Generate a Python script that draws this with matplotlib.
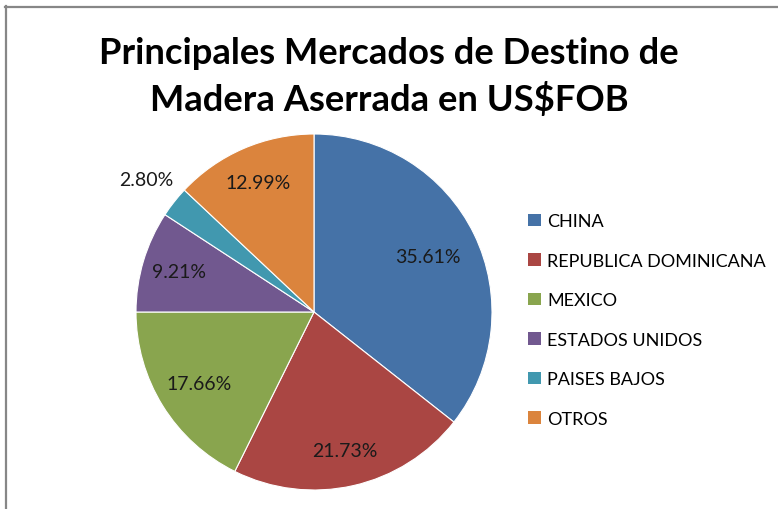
import matplotlib.pyplot as plt
from matplotlib.patches import Patch
from matplotlib.lines import Line2D
import numpy as np

# datos del gráfico
mercados = ['CHINA', 'REPUBLICA DOMINICANA', 'MEXICO', 'ESTADOS UNIDOS',
            'PAISES BAJOS', 'OTROS']
porcentajes = [35.61, 21.73, 17.66, 9.21, 2.80, 12.99]
colores = ['#4572A7', '#AA4643', '#89A54E', '#71588F', '#4198AF', '#DB843D']
titulo = 'Principales Mercados de Destino de\nMadera Aserrada en US$FOB'

# distancia radial de cada etiqueta (fracción del radio)
dist_etiquetas = [0.71, 0.80, 0.76, 0.79, 1.20, 0.79]

plt.rcParams['font.family'] = ['Lato', 'DejaVu Sans']

W, H = 778, 510
fig = plt.figure(figsize=(W / 100, H / 100), dpi=100)

# centro del pastel y radio en píxeles
cx, cy, r = 314, 313, 178
ax = fig.add_axes([(cx - r) / W, (H - cy - r) / H, 2 * r / W, 2 * r / H])

wedges, _ = ax.pie(porcentajes, colors=colores, startangle=90,
                   counterclock=False, radius=1,
                   wedgeprops=dict(edgecolor='white', linewidth=0.8))
ax.set_xlim(-1, 1)
ax.set_ylim(-1, 1)
ax.set_aspect('equal')
ax.axis('off')

for w, p, d in zip(wedges, porcentajes, dist_etiquetas):
    ang = np.deg2rad((w.theta1 + w.theta2) / 2)
    ax.text(d * np.cos(ang), d * np.sin(ang), f'{p:.2f}%',
            ha='center', va='center', fontsize=14, color='#1a1a1a')

fig.text(0.5, 1 - 77 / H, titulo, ha='center', va='center',
         fontsize=26.2, fontweight='bold', linespacing=1.38)

handles = [Patch(facecolor=c, edgecolor='none') for c in colores]
fig.legend(handles, mercados, loc='upper left',
           bbox_to_anchor=(512 / W, 1 - 198 / H), frameon=False,
           fontsize=13, handlelength=0.7, handleheight=0.7,
           handletextpad=0.35, labelspacing=1.3)

# borde del área del gráfico
fig.add_artist(Line2D([5 / W, 1], [1 - 8 / H] * 2, color='#878787', lw=1.6))
fig.add_artist(Line2D([6.5 / W] * 2, [0, 1 - 7 / H], color='#878787', lw=1.6))

fig.savefig('out.png', dpi=100)
